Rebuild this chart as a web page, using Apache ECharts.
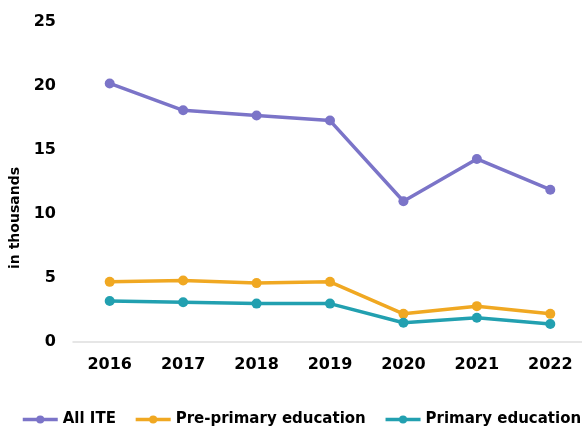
<!DOCTYPE html>
<html>
<head>
<meta charset="utf-8">
<script src="https://cdn.jsdelivr.net/npm/echarts@6/dist/echarts.min.js"></script>
<style>html,body{margin:0;padding:0;background:#fff}#c{width:582px;height:427px}</style>
</head>
<body>
<div id="c"></div>
<script>
// Initial teacher education graduates, in thousands
var years = ['2016', '2017', '2018', '2019', '2020', '2021', '2022'];
var allIte = [20.2, 18.1, 17.7, 17.3, 11.0, 14.3, 11.9];
var prePrimary = [4.7, 4.8, 4.6, 4.7, 2.2, 2.8, 2.2];
var primary = [3.2, 3.1, 3.0, 3.0, 1.5, 1.9, 1.4];
var yTicks = [0, 5, 10, 15, 20, 25];

var font = 'DejaVu Sans';
var chart = echarts.init(document.getElementById('c'), null, {renderer: 'canvas'});

function line(name, data, color) {
  return {
    name: name,
    type: 'line',
    data: data,
    symbol: 'circle',
    symbolSize: 10,
    lineStyle: {width: 3.5, color: color},
    itemStyle: {color: color},
    animation: false
  };
}

chart.setOption({
  animation: false,
  grid: {left: 73, top: 22, width: 514, height: 320, outerBoundsMode: 'none', containLabel: false},
  xAxis: {
    type: 'category',
    data: years,
    boundaryGap: true,
    axisLine: {lineStyle: {color: '#dedede', width: 1.5}},
    axisTick: {show: false},
    axisLabel: {color: '#000', fontFamily: font, fontWeight: 'bold', fontSize: 16, margin: 15}
  },
  yAxis: {
    type: 'value',
    min: yTicks[0],
    max: yTicks[yTicks.length - 1],
    interval: 5,
    name: 'in thousands',
    nameLocation: 'middle',
    nameGap: 50,
    nameRotate: 90,
    nameTextStyle: {color: '#000', fontFamily: font, fontWeight: 'bold', fontSize: 14, padding: [0, 0, 0, -72]},
    axisLine: {show: false},
    axisTick: {show: false},
    splitLine: {show: false},
    axisLabel: {color: '#000', fontFamily: font, fontWeight: 'bold', fontSize: 16, margin: 17}
  },
  legend: {
    left: 21,
    top: 412,
    width: 600,
    padding: 0,
    itemWidth: 35,
    itemHeight: 10,
    itemGap: 18,
    lineStyle: {width: 3.5},
    textStyle: {color: '#000', fontFamily: font, fontWeight: 'bold', fontSize: 15},
    data: ['All ITE', 'Pre-primary education', 'Primary education']
  },
  series: [
    line('All ITE', allIte, '#7b74c8'),
    line('Pre-primary education', prePrimary, '#f0a822'),
    line('Primary education', primary, '#22a0b0')
  ]
});
</script>
</body>
</html>
